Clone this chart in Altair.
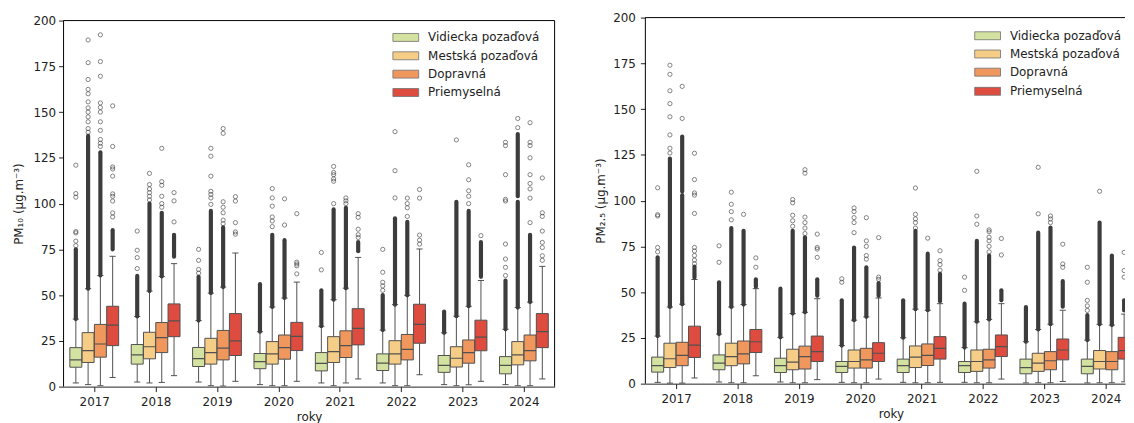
import altair as alt
import pandas as pd

YEARS = [2017, 2018, 2019, 2020, 2021, 2022, 2023, 2024]
TYPES = ["Vidiecka pozaďová", "Mestská pozaďová", "Dopravná", "Priemyselná"]
COLORS = ["#d3e2a0", "#f6cd86", "#ef975d", "#dd4c3f"]

# ---------------- PM10 (one list per station type, one value per year) ----------------
PM10_WLO = [
    [2.0, 2.5, 2.5, 1.1, 2.0, 2.0, 1.1, 1.1],
    [1.1, 2.0, 0.5, 0.5, 0.5, 0.5, 0.5, 0.5],
    [0.5, 2.3, 0.3, 0.5, 2.0, 0.5, 1.0, 0.5],
    [5.0, 6.0, 2.9, 2.9, 4.2, 6.5, 2.9, 4.2],
]
PM10_Q1 = [
    [10.6, 12.3, 11.0, 9.8, 8.6, 8.8, 7.8, 7.0],
    [13.2, 15.2, 12.3, 12.3, 13.2, 12.3, 10.7, 11.9],
    [16.1, 18.6, 14.6, 15.0, 15.9, 14.6, 12.8, 14.1],
    [22.4, 27.3, 17.0, 19.7, 22.8, 23.7, 19.6, 21.3],
]
PM10_MED = [
    [14.6, 17.3, 15.3, 13.7, 12.7, 12.8, 11.6, 11.6],
    [19.7, 21.8, 18.6, 17.9, 19.1, 17.9, 15.5, 17.3],
    [23.3, 26.8, 21.0, 21.3, 22.4, 20.4, 18.6, 19.7],
    [33.6, 35.9, 25.0, 27.5, 31.8, 34.0, 27.0, 30.0],
]
PM10_Q3 = [
    [21.3, 23.0, 21.4, 18.1, 18.6, 17.9, 17.0, 16.4],
    [29.5, 29.7, 26.4, 24.6, 27.3, 25.1, 21.8, 24.6],
    [34.0, 35.0, 30.7, 28.2, 30.5, 28.5, 25.5, 28.2],
    [43.9, 45.2, 39.9, 35.1, 42.6, 45.0, 36.3, 39.9],
]
PM10_WHI = [
    [36.9, 38.3, 36.1, 30.0, 33.0, 30.9, 29.4, 31.3],
    [53.5, 52.2, 51.1, 43.5, 47.5, 44.8, 38.5, 43.2],
    [60.7, 60.2, 54.4, 48.4, 53.8, 49.9, 43.9, 46.2],
    [71.2, 67.2, 73.0, 57.1, 70.6, 75.2, 58.0, 65.7],
]
PM10_DENSE = [
    [[[36.9, 75]], [[38.3, 60.5]], [[36.1, 60]], [[30, 56]], [[33, 52.6]], [[30.9, 50]], [[29.4, 41]], [[31.3, 58]]],
    [[[53.5, 137]], [[52.2, 100]], [[51.1, 96]], [[43.5, 83]], [[47.5, 96.8]], [[44.8, 92]], [[38.5, 101]], [[43.2, 101], [104, 138]]],
    [[[60.7, 128]], [[60.2, 95]], [[54.4, 87]], [[48.4, 80]], [[53.8, 97.7]], [[49.9, 90]], [[43.9, 96]], [[46.2, 83]]],
    [[[75, 85.5]], [[71, 83]], [], [], [[74, 79]], [], [[60, 79]], []],
]
PM10_FLIERS = [
    [[77, 79.5, 84, 84.7, 103.5, 105.5, 121], [64.5, 70.5, 74.5, 85], [62, 64, 69, 75], [], [63.8, 73.3],
     [52.6, 55, 57, 62.5, 75], [], [60.7, 65.2, 69.7, 77.9, 101.4, 102.3, 115.8, 131.7, 133.5]],
    [[139, 141, 144.7, 147.4, 150, 152.3, 155.6, 160, 162.4, 167.8, 177, 189.4], [102, 104, 106, 108, 110.4, 116.5],
     [99.6, 103.1, 105, 106.7, 115, 125.9, 130.2], [87.4, 90.5, 92.7, 98.6, 103.1, 108.2],
     [100, 112.2, 113.5, 115.8, 117, 120.3], [103.1, 118, 139.3], [134.8], [141.5, 146.5]],
    [[131.2, 133, 135, 140, 144.7, 150, 152.5, 155, 169.6, 177.6, 192.2], [98, 100, 104, 110, 112, 130.2],
     [89, 91, 95, 98, 101, 138.4, 141], [88.3, 102.6], [100, 101.5, 103.1], [93, 97.7, 100, 103],
     [100, 104, 107, 113, 121.2], [89.6, 103, 108, 111, 115.8, 125, 131.7, 133.5, 144.2]],
    [[92.7, 94.9, 101.4, 104, 105.3, 115, 118.9, 120, 131.2, 153.4], [90, 101.5, 106], [83.3, 84.5, 89.6, 101.4, 103.8],
     [61.6, 66, 67, 68, 94.5], [81.5, 83, 86, 92.5, 94.5], [77.9, 80, 82.8, 103, 107.7], [82.5],
     [69, 71.5, 76, 78.8, 85, 93, 95, 114]],
]

# ---------------- PM2.5 ----------------
PM25_WLO = [
    [0.7, 0.9, 0.9, 0.7, 0.7, 0.7, 0.4, 0.4],
    [0.3, 0.5, 0.5, 0.5, 0.5, 0.5, 0.5, 0.5],
    [0.3, 0.5, 0.5, 0.5, 0.5, 0.5, 0.5, 0.5],
    [3.1, 4.3, 2.2, 2.5, 0.7, 2.5, 1.2, 1.0],
]
PM25_Q1 = [
    [6.3, 7.6, 6.1, 6.1, 6.1, 6.1, 5.4, 5.4],
    [8.8, 9.8, 7.6, 8.5, 8.8, 6.7, 6.7, 8.0],
    [9.8, 10.8, 8.0, 8.5, 9.9, 8.5, 7.6, 7.6],
    [14.3, 17.0, 12.1, 12.1, 13.4, 14.8, 13.0, 13.4],
]
PM25_MED = [
    [9.9, 11.2, 9.9, 9.4, 9.8, 9.8, 8.8, 9.4],
    [13.6, 14.8, 11.8, 12.1, 14.5, 12.1, 11.2, 12.1],
    [15.4, 16.3, 14.8, 13.0, 15.4, 13.0, 12.5, 12.1],
    [21.1, 22.9, 17.5, 16.6, 19.3, 20.2, 18.4, 18.0],
]
PM25_Q3 = [
    [14.5, 15.7, 13.9, 12.1, 13.4, 12.1, 13.4, 13.4],
    [22.1, 22.1, 18.8, 18.4, 20.6, 18.4, 16.6, 18.1],
    [22.6, 23.3, 20.5, 19.3, 21.7, 18.8, 17.5, 17.5],
    [31.4, 29.6, 26.0, 22.4, 25.7, 26.6, 24.4, 25.3],
]
PM25_WHI = [
    [26.0, 27.1, 25.3, 20.8, 25.1, 19.7, 22.9, 23.8],
    [41.9, 41.9, 38.3, 34.7, 40.7, 33.8, 29.6, 32.4],
    [43.4, 43.2, 39.0, 36.5, 40.1, 35.1, 32.5, 32.0],
    [56.9, 51.9, 46.4, 46.8, 43.7, 43.7, 40.1, 38.0],
]
PM25_DENSE = [
    [[[26, 69]], [[27.1, 55.4]], [[25.3, 51.9]], [[20.8, 45.5]], [[25.1, 45.5]], [[19.7, 43.7]], [[22.9, 41.9]], [[23.8, 37.4]]],
    [[[41.9, 123]], [[41.9, 85]], [[38.3, 83.5]], [[34.7, 74.4]], [[40.7, 83.5]], [[33.8, 78]], [[29.6, 82.5]], [[32.4, 88]]],
    [[[43.4, 103], [105, 135]], [[43.2, 83.5]], [[39, 80]], [[36.5, 63.6]], [[40.1, 71]], [[35.1, 70]], [[32.5, 85.3]], [[32, 70]]],
    [[[58, 64]], [[53, 57]], [[48, 57]], [[48, 55]], [[45, 60]], [[45.5, 51]], [[42, 56]], [[40, 45.5]]],
]
PM25_FLIERS = [
    [[72, 74.4, 91.6, 92.3, 107], [66.3, 75.3], [], [55.4, 57.3], [], [51, 58.2], [], [40, 42.5, 45.5, 55.4, 63.6]],
    [[126, 128.6, 135.9, 145.8, 153, 160, 169, 174], [89.5, 94, 98, 104.6], [86, 89, 92, 98.8, 100.6],
     [82.5, 88, 90.7, 94, 96], [85, 88, 90, 92.5, 106.9], [87.1, 91.6, 116], [92.8, 118.2], [105.1]],
    [[144.9, 162.4], [92.5], [82, 85, 88, 91, 115, 116.9], [68, 70, 75, 78, 90.7], [79.5],
     [72, 75, 78, 80, 83, 84], [88, 90, 91.6], []],
    [[65.5, 67.5, 70, 72.5, 74.4, 93, 103, 104.2, 111.5, 125.9], [63.6, 68.7], [69, 73.5, 74.4, 81.7],
     [57, 58.2, 79.8], [62, 65, 67.2, 72.6], [70.3, 79.3], [63.6, 65.4, 76.2], [58.2, 61.8, 71.7]],
]

# ---------------- layout / style ----------------
DODGE = [-0.3, -0.1, 0.1, 0.3]
HALF_BOX = 0.0975
HALF_CAP = 0.05
EDGE = "#505050"
FLIER = "#3c3c3c"
INK = "#222222"
FONT = "DejaVu Sans"
H = 372


def frames(wlo, q1, med, q3, whi, dense, fliers):
    b, d, p = [], [], []
    for ti, t in enumerate(TYPES):
        for yi, yr in enumerate(YEARS):
            xc = yr + DODGE[ti]
            b.append({"type": t, "xc": xc, "xl": xc - HALF_BOX, "xr": xc + HALF_BOX,
                      "cl": xc - HALF_CAP, "cr": xc + HALF_CAP,
                      "wlo": wlo[ti][yi], "q1": q1[ti][yi], "med": med[ti][yi],
                      "q3": q3[ti][yi], "whi": whi[ti][yi]})
            for lo, hi in dense[ti][yi]:
                d.append({"xc": xc, "lo": lo, "hi": hi})
            for v in fliers[ti][yi]:
                p.append({"xc": xc, "v": v})
    return pd.DataFrame(b), pd.DataFrame(d), pd.DataFrame(p)


def panel(stats, ytitle, width, xmax, ydomain, axis_offset, ytitle_y, legend_rows, ylabel_pad, right_spine):
    box, dense, pts = stats
    xs = alt.Scale(domain=[2016.5, xmax], nice=False, zero=False)
    ys = alt.Scale(domain=ydomain, nice=False, zero=False)
    xaxis = alt.Axis(values=YEARS, format="d", title="roky", offset=axis_offset, titleX=247.5,
                     titleAlign="center", labelFlush=False, labelOverlap=False,
                     tickSize=5, labelPadding=5, titlePadding=4)
    yaxis = alt.Axis(values=list(range(0, 201, 25)), title=ytitle, domain=False, titleX=-45,
                     titleY=ytitle_y, titleAngle=270, titleAlign="center", titleBaseline="middle",
                     labelFlush=False, labelOverlap=False, tickSize=5, labelPadding=ylabel_pad)

    def X(f):
        return alt.X(f, type="quantitative", scale=xs, axis=xaxis)

    def Y(f):
        return alt.Y(f, type="quantitative", scale=ys, axis=yaxis)

    cbox = alt.Chart(box)
    layers = [
        cbox.mark_rule(color=EDGE, strokeWidth=1, clip=True).encode(x=X("xc"), y=Y("wlo"), y2="q1"),
        cbox.mark_rule(color=EDGE, strokeWidth=1, clip=True).encode(x=X("xc"), y=Y("q3"), y2="whi"),
        cbox.mark_rule(color=EDGE, strokeWidth=1, clip=True).encode(x=X("cl"), x2="cr", y=Y("wlo")),
        cbox.mark_rule(color=EDGE, strokeWidth=1, clip=True).encode(x=X("cl"), x2="cr", y=Y("whi")),
        cbox.mark_rect(stroke=EDGE, strokeWidth=1, clip=True).encode(
            x=X("xl"), x2="xr", y=Y("q1"), y2="q3",
            color=alt.Color("type:N", scale=alt.Scale(domain=TYPES, range=COLORS), legend=None)),
        cbox.mark_rule(color=EDGE, strokeWidth=1.2, clip=True).encode(x=X("xl"), x2="xr", y=Y("med")),
        alt.Chart(dense).mark_rule(color=FLIER, strokeWidth=4.2, strokeCap="round", clip=True).encode(
            x=X("xc"), y=Y("lo"), y2="hi"),
        alt.Chart(pts).mark_point(shape="circle", size=18, filled=False, color=FLIER, strokeWidth=0.9,
                                  clip=True).encode(x=X("xc"), y=Y("v")),
    ]
    one = alt.Chart(pd.DataFrame({"k": [0]}))
    layers.append(one.mark_rule(color="black", strokeWidth=1).encode(
        x=alt.value(0), x2=alt.value(width), y=alt.datum(200)))
    layers.append(one.mark_rule(color="black", strokeWidth=1).encode(
        x=alt.value(0), y=alt.datum(0), y2=alt.datum(200)))
    if right_spine:
        layers.append(one.mark_rule(color="black", strokeWidth=1).encode(
            x=alt.value(width), y=alt.datum(0), y2=alt.datum(200)))
    for i, t in enumerate(TYPES):
        ly = legend_rows[i]
        lab = alt.Chart(pd.DataFrame({"t": [t]}))
        layers.append(lab.mark_rect(stroke="#707070", strokeWidth=0.8, clip=True).encode(
            x=alt.value(332), x2=alt.value(358), y=alt.value(ly - 4), y2=alt.value(ly + 4),
            color=alt.value(COLORS[i])))
        layers.append(lab.mark_text(align="left", baseline="middle", fontSize=12, font=FONT,
                                    color=INK, clip=True).encode(
            x=alt.value(367.5), y=alt.value(ly), text="t:N"))
    return alt.layer(*layers).properties(width=width, height=H)


W_LEFT = 495
W_RIGHT = 483.5
PX_PER_YEAR = W_LEFT / 8.0

pm10 = frames(PM10_WLO, PM10_Q1, PM10_MED, PM10_Q3, PM10_WHI, PM10_DENSE, PM10_FLIERS)
pm25 = frames(PM25_WLO, PM25_Q1, PM25_MED, PM25_Q3, PM25_WHI, PM25_DENSE, PM25_FLIERS)

ext = 200 * 3.0 / 369.0
left = panel(pm10, "PM₁₀  (μg.m⁻³)", W_LEFT, 2024.5, [0, 200 + ext], 0, 187.5,
             [20, 38.5, 57, 75.5], 3, True)
right = panel(pm25, "PM₂.₅ (μg.m⁻³)", W_RIGHT, 2016.5 + W_RIGHT / PX_PER_YEAR, [-ext, 200], -3, 184.5,
              [18.3, 36.7, 55, 74.3], 5, False)

chart = alt.hconcat(left, right, spacing=91.5, bounds="flush").properties(
    padding={"left": 5, "top": 2, "right": 0, "bottom": 0}
).configure(font=FONT).configure_view(stroke=None).configure_axis(
    grid=False, labelFont=FONT, titleFont=FONT, labelFontSize=12, titleFontSize=12,
    titleFontWeight="normal", labelColor=INK, titleColor=INK, tickColor=INK, domainColor=INK,
    domainWidth=1, tickWidth=1
)

chart.save("out.html", embed_options={"renderer": "svg", "actions": False})
